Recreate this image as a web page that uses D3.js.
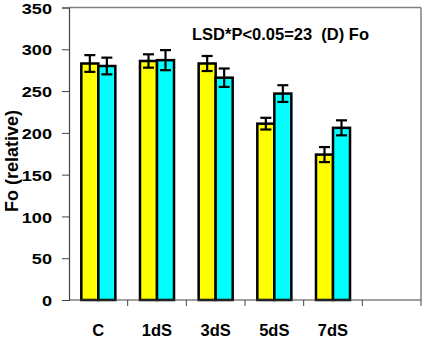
<!DOCTYPE html>
<html>
<head>
<meta charset="utf-8">
<script src="https://cdn.jsdelivr.net/npm/d3@7"></script>
<style>
  body { margin: 0; background: #fff; }
  text { font-family: "Liberation Sans", Arial, sans-serif; font-weight: bold; fill: #000; }
</style>
</head>
<body>
<div id="chart"></div>
<script>
// categories (last slot is empty in the original)
const categories = ["C", "1dS", "3dS", "5dS", "7dS", ""];
const series1 = [283, 286, 283, 211, 174];   // yellow
const series2 = [280, 287, 266, 247, 206];   // cyan
const err1 = [10, 8, 9, 7, 9];
const err2 = [10, 12, 11, 10, 9];
const yTicks = [0, 50, 100, 150, 200, 250, 300, 350];

const W = 422, H = 337;
const margin = { top: 7.5, right: 1, bottom: 37, left: 69 };
const width = W - margin.left - margin.right;
const height = H - margin.top - margin.bottom;

const svg = d3.select("#chart").append("svg")
    .attr("width", W)
    .attr("height", H);

const g = svg.append("g")
    .attr("transform", `translate(${margin.left},${margin.top})`);

const x = d3.scaleBand()
    .domain(categories)
    .range([0, width]);

const inner = d3.scaleBand()
    .domain([0, 1])
    .range([x.bandwidth() * 0.21, x.bandwidth() * 0.79]);

const y = d3.scaleLinear()
    .domain([0, 350])
    .range([height, 0]);

// frame: top and right in grey
g.append("line")
    .attr("x1", 0).attr("x2", width)
    .attr("y1", 0).attr("y2", 0)
    .attr("stroke", "#808080").attr("stroke-width", 1.5);
g.append("line")
    .attr("x1", width).attr("x2", width)
    .attr("y1", 0).attr("y2", height)
    .attr("stroke", "#808080").attr("stroke-width", 1.5);

// bars
const data = categories.slice(0, 5).map((c, i) => ({
    cat: c,
    vals: [
        { s: 0, v: series1[i], e: err1[i] },
        { s: 1, v: series2[i], e: err2[i] }
    ]
}));
const colors = ["#ffff00", "#00ffff"];

const groups = g.selectAll(".grp")
    .data(data)
    .enter().append("g")
    .attr("transform", d => `translate(${x(d.cat)},0)`);

groups.selectAll("rect")
    .data(d => d.vals)
    .enter().append("rect")
    .attr("x", d => inner(d.s))
    .attr("y", d => y(d.v))
    .attr("width", inner.bandwidth())
    .attr("height", d => y(0) - y(d.v))
    .attr("fill", d => colors[d.s])
    .attr("stroke", "#000")
    .attr("stroke-width", 2.5);

// error bars
const eb = groups.selectAll(".eb")
    .data(d => d.vals)
    .enter().append("g")
    .attr("transform", d => `translate(${inner(d.s) + inner.bandwidth() / 2},0)`);
eb.append("line")
    .attr("y1", d => y(d.v + d.e)).attr("y2", d => y(d.v - d.e))
    .attr("stroke", "#000").attr("stroke-width", 2.2);
eb.append("line")
    .attr("x1", -5.5).attr("x2", 5.5)
    .attr("y1", d => y(d.v + d.e)).attr("y2", d => y(d.v + d.e))
    .attr("stroke", "#000").attr("stroke-width", 2.2);
eb.append("line")
    .attr("x1", -5.5).attr("x2", 5.5)
    .attr("y1", d => y(d.v - d.e)).attr("y2", d => y(d.v - d.e))
    .attr("stroke", "#000").attr("stroke-width", 2.2);

// y axis
const yAxis = g.append("g")
    .call(d3.axisLeft(y).tickValues(yTicks).tickSize(7).tickPadding(6));
yAxis.select(".domain").attr("stroke", "#444").attr("stroke-width", 1.2);
yAxis.selectAll(".tick line").attr("stroke", "#444");
// the original labels are a bit stretched sideways
yAxis.selectAll("text")
    .style("font-size", "15.5px")
    .attr("fill", "#000")
    .attr("x", 0)
    .attr("dy", "0.36em")
    .attr("transform", "translate(-17,0) scale(1.17,1)");

// x axis: ticks at category boundaries
const xAxis = g.append("g")
    .attr("transform", `translate(0,${height})`);
xAxis.append("line")
    .attr("x1", 0).attr("x2", width)
    .attr("stroke", "#444").attr("stroke-width", 1.2);
xAxis.selectAll(".xt")
    .data(categories)
    .enter().append("line")
    .attr("x1", d => x(d) + x.bandwidth()).attr("x2", d => x(d) + x.bandwidth())
    .attr("y1", 0).attr("y2", 6)
    .attr("stroke", "#444");
xAxis.selectAll(".xl")
    .data(categories.slice(0, 5))
    .enter().append("text")
    .attr("x", d => x(d) + x.bandwidth() / 2)
    .attr("y", 35.5)
    .attr("text-anchor", "middle")
    .style("font-size", "16.5px")
    .text(d => d);

// annotation (keep the double space)
g.append("text")
    .attr("x", 123)
    .attr("y", 32.5)
    .style("font-size", "16.5px")
    .style("white-space", "pre")
    .text("LSD*P<0.05=23  (D) Fo");

// y label
svg.append("text")
    .attr("transform", "translate(17.5,161) rotate(-90)")
    .attr("text-anchor", "middle")
    .style("font-size", "18px")
    .text("Fo (relative)");
</script>
</body>
</html>
